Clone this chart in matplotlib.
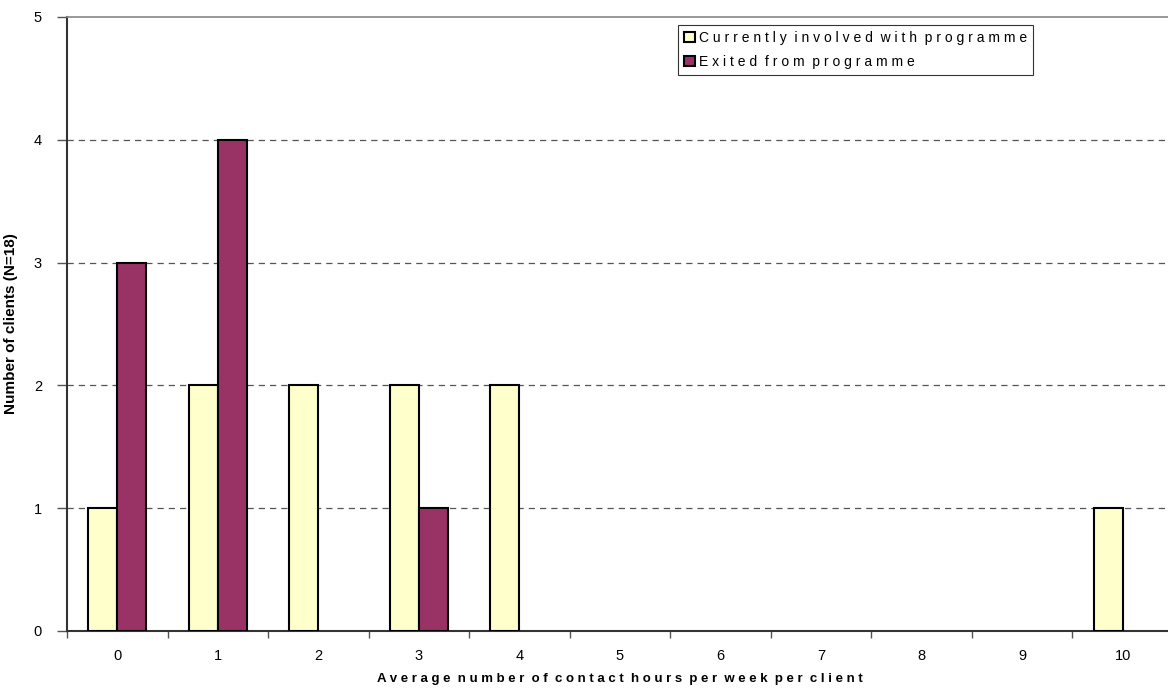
import numpy as np
import matplotlib.pyplot as plt
from matplotlib import font_manager

plt.rcParams['font.family'] = ['Liberation Sans', 'DejaVu Sans']

hours = ['0', '1', '2', '3', '4', '5', '6', '7', '8', '9', '10']
current = [1, 2, 2, 2, 2, 0, 0, 0, 0, 0, 1]
exited = [3, 4, 0, 1, 0, 0, 0, 0, 0, 0, 0]
series_names = ['C u r r e n t l y  i n v o l v e d  w i t h  p r o g r a m m e',
                'E x i t e d  f r o m  p r o g r a m m e']

narrow = 'Liberation Sans Narrow'
names = {f.name for f in font_manager.fontManager.ttflist}
if narrow not in names:
    narrow = 'Liberation Sans'

fig = plt.figure(figsize=(11.68, 6.89), dpi=100)
ax = fig.add_axes([67 / 1168, 58 / 689, 1106 / 1168, 614 / 689])

ind = np.arange(len(hours))
width = 0.29
b1 = ax.bar(ind - width / 2, current, width, color='#FFFFCC', edgecolor='black', linewidth=1.5, zorder=3)
b2 = ax.bar(ind + width / 2, exited, width, color='#993366', edgecolor='black', linewidth=1.5, zorder=3)
# empty categories get no outline
for p in list(b1) + list(b2):
    if p.get_height() == 0:
        p.set_visible(False)

ax.set_xlim(-0.5, len(hours) - 0.5)
ax.set_ylim(0, 5)
ax.set_yticks(range(6))
ax.set_xticks(ind)
ax.set_xticklabels(hours, fontsize=10.5)
ax.set_xticks(np.arange(-0.5, len(hours), 1), minor=True)
ax.tick_params(axis='x', which='major', length=0, pad=13)
ax.tick_params(axis='x', which='minor', length=5, width=1, direction='out', color='#555555')
ax.tick_params(axis='y', length=7, width=1, direction='out', color='#555555', labelsize=10.5, pad=11)

for v in range(1, 5):
    ax.axhline(v, color='#555555', linestyle=(0, (5, 4)), linewidth=0.9, zorder=1)

for s in ['left', 'bottom']:
    ax.spines[s].set_color('#333333')
    ax.spines[s].set_linewidth(1.5)
ax.spines['top'].set_color('#888888')
ax.spines['top'].set_linewidth(1.2)
ax.spines['right'].set_visible(False)

ax.set_ylabel('Number of clients (N=18)', family=narrow, fontweight='bold', fontsize=11)
ax.yaxis.set_label_coords(-49 / 1106, 0.5)
ax.set_xlabel('A v e r a g e  n u m b e r  o f  c o n t a c t  h o u r s  p e r  w e e k  p e r  c l i e n t',
              fontweight='bold', fontsize=9.5)
ax.xaxis.set_label_coords(0.5, -42 / 614)

leg = ax.legend((b1, b2), series_names,
                loc='upper left', bbox_to_anchor=(611 / 1106, 1 - 8 / 614), fontsize=10,
                frameon=True, fancybox=False, edgecolor='black', borderpad=0.45,
                handlelength=0.75, handleheight=0.75, handletextpad=0.3, labelspacing=0.7,
                borderaxespad=0)
leg.get_frame().set_linewidth(0.8)

fig.savefig('out.png', dpi=100)
